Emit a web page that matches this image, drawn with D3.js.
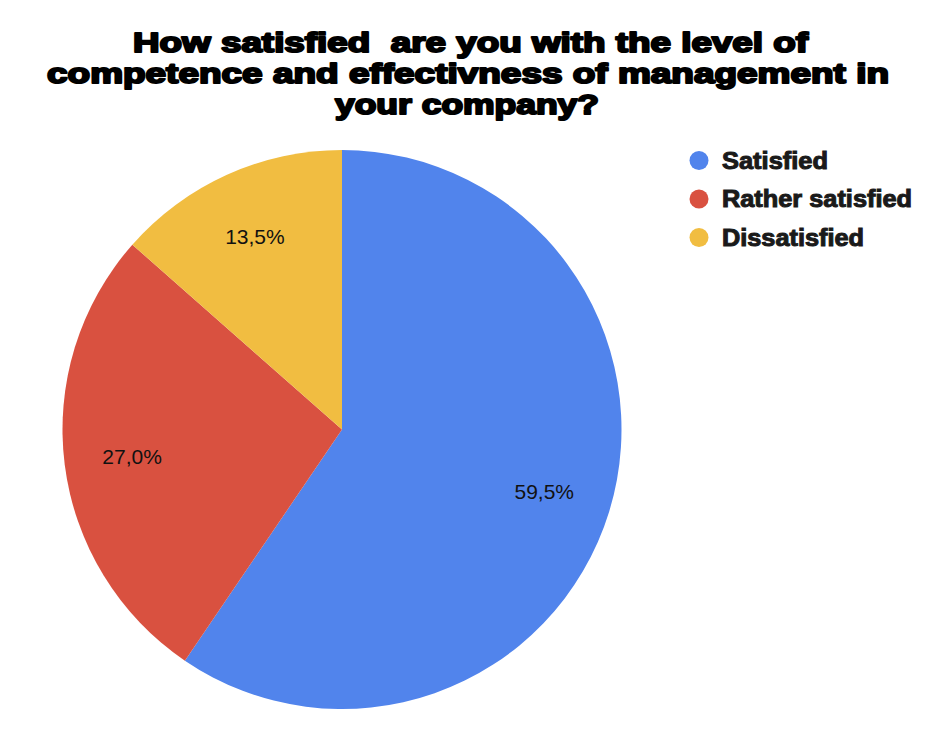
<!DOCTYPE html>
<html>
<head>
<meta charset="utf-8">
<script src="https://cdn.jsdelivr.net/npm/d3@7"></script>
<style>
  html, body { margin: 0; padding: 0; background: #fff; }
  svg { display: block; }
  text { white-space: pre; }
</style>
</head>
<body>
<svg id="chart" width="948" height="746"></svg>
<script>
const titleLines = [
  "How satisfied  are you with the level of",
  "competence and effectivness of management in",
  "your company?"
];
const categories = ["Satisfied", "Rather satisfied", "Dissatisfied"];
const values = [59.5, 27.0, 13.5];
const colors = ["#5184ec", "#d95140", "#f1bd41"];

const svg = d3.select("#chart");
const W = 948, H = 746;
svg.append("rect").attr("width", W).attr("height", H).attr("fill", "#fff");

// Title
const titleWidths = [675, 842, 264];
const titleBaselines = [51.5, 82.5, 113.5];
const titleX = [470.5, 468, 467];
svg.append("g").selectAll("text").data(titleLines).join("text")
  .attr("x", (d, i) => titleX[i])
  .attr("y", (d, i) => titleBaselines[i])
  .attr("text-anchor", "middle")
  .attr("font-family", "'Liberation Sans', Arial, sans-serif")
  .attr("font-weight", "bold")
  .attr("font-size", 27.6)
  .attr("fill", "#000")
  .attr("stroke", "#000")
  .attr("stroke-width", 2.0)
  .attr("stroke-linejoin", "round")
  .attr("textLength", (d, i) => titleWidths[i])
  .attr("lengthAdjust", "spacingAndGlyphs")
  .text(d => d);

// Pie
const cx = 342, cy = 429.5, R = 279.5;
const data = categories.map((c, i) => ({ name: c, value: values[i], color: colors[i] }));
const pie = d3.pie().value(d => d.value).sort(null);
const arcs = pie(data);
const arc = d3.arc().innerRadius(0).outerRadius(R);
const labelArc = d3.arc().innerRadius(R * 0.757).outerRadius(R * 0.757);

const g = svg.append("g").attr("transform", `translate(${cx},${cy})`);
g.selectAll("path").data(arcs).join("path")
  .attr("d", arc)
  .attr("fill", d => d.data.color);

const fmt = v => d3.format(".1f")(v).replace(".", ",") + "%";
g.selectAll("text.lbl").data(arcs).join("text")
  .attr("class", "lbl")
  .attr("transform", d => `translate(${labelArc.centroid(d)})`)
  .attr("text-anchor", "middle")
  .attr("dy", "0.36em")
  .attr("font-family", "'Liberation Sans', Arial, sans-serif")
  .attr("font-size", 21)
  .attr("fill", "#111")
  .text(d => fmt(d.data.value));

// Legend
const legendY = d3.scalePoint().domain(categories).range([160.5, 237.5]);
const legendWidths = [106, 190, 142];
const lg = svg.append("g");
const items = lg.selectAll("g").data(data).join("g")
  .attr("transform", d => `translate(0,${legendY(d.name)})`);
items.append("circle")
  .attr("cx", 699).attr("cy", 0).attr("r", 9.5)
  .attr("fill", d => d.color);
items.append("text")
  .attr("x", 722).attr("y", 0).attr("dy", "0.36em")
  .attr("font-family", "'Liberation Sans', Arial, sans-serif")
  .attr("font-weight", "bold")
  .attr("font-size", 23)
  .attr("fill", "#1a1a1a")
  .attr("stroke", "#1a1a1a")
  .attr("stroke-width", 1.0)
  .attr("textLength", (d, i) => legendWidths[i])
  .attr("lengthAdjust", "spacingAndGlyphs")
  .text(d => d.name);
</script>
</body>
</html>
